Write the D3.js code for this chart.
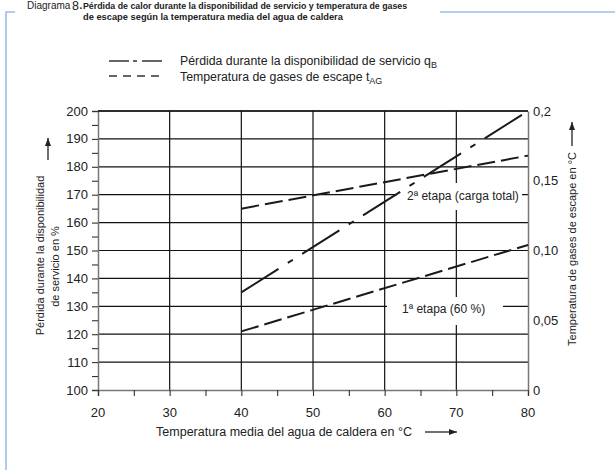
<!DOCTYPE html>
<html><head><meta charset="utf-8">
<script src="https://cdn.jsdelivr.net/npm/d3@7"></script>
<style>
html,body{margin:0;padding:0;background:#fff;}
svg{display:block;font-family:"Liberation Sans",Arial,Helvetica,sans-serif;}
</style></head>
<body>
<svg id="c" width="615" height="470"></svg>
<script>
// ---- data ----
const xTicks = [20, 25, 30, 35, 40, 45, 50, 55, 60, 65, 70, 75, 80];
const xLabels = [20, 30, 40, 50, 60, 70, 80];
const xGrid = [30, 40, 50, 60, 70];
const leftTicks = [100, 105, 110, 115, 120, 125, 130, 135, 140, 145, 150, 155, 160, 165, 170, 175, 180, 185, 190, 195, 200];
const leftLabels = [100, 110, 120, 130, 140, 150, 160, 170, 180, 190, 200];
const rightTicks = [0, 0.05, 0.10, 0.15, 0.2];
const rightLabels = ["0", "0,05", "0,10", "0,15", "0,2"];
const waterTemp = [40, 80];                 // °C
const lossQB = [135, 200];                  // % (left axis)
const gasStage2 = [0.130, 0.168];           // right axis
const gasStage1 = [0.042, 0.104];           // right axis

const svg = d3.select("#c");
const W = 615, H = 470;
const m = {l: 98, r: 528, t: 111, b: 390};
const x = d3.scaleLinear().domain([20, 80]).range([m.l, m.r]);
const yL = d3.scaleLinear().domain([100, 200]).range([m.b, m.t]);
const yR = d3.scaleLinear().domain([0, 0.2]).range([m.b, m.t]);
const txt = "#222";

// blue frame
svg.append("path").attr("d", `M15,12 H6 V${H}`).attr("fill", "none").attr("stroke", "#9dbde8").attr("stroke-width", 1.6);
svg.append("line").attr("x1", 440).attr("x2", W).attr("y1", 12).attr("y2", 12).attr("stroke", "#9dbde8").attr("stroke-width", 1.6);

// title
svg.append("text").attr("x", 27).attr("y", 9).attr("fill", txt).attr("font-size", 10).text("Diagrama");
svg.append("text").attr("x", 72).attr("y", 9.5).attr("fill", txt).attr("font-size", 12.5).text("8");
svg.append("text").attr("x", 79.5).attr("y", 9).attr("fill", txt).attr("font-size", 10).attr("font-weight", "bold").text(".");
svg.append("text").attr("x", 83).attr("y", 9).attr("fill", txt).attr("font-size", 8.8).attr("font-weight", "bold")
  .text("Pérdida de calor durante la disponibilidad de servicio y temperatura de gases");
svg.append("text").attr("x", 83).attr("y", 20).attr("fill", txt).attr("font-size", 9.3).attr("font-weight", "bold")
  .text("de escape según la temperatura media del agua de caldera");

// legend
const leg = svg.append("g");
leg.append("line").attr("x1", 109).attr("x2", 162).attr("y1", 61).attr("y2", 61)
  .attr("stroke", "#333").attr("stroke-width", 1.6).attr("stroke-dasharray", "20,4,4,5,20");
leg.append("line").attr("x1", 109).attr("x2", 160).attr("y1", 76).attr("y2", 76)
  .attr("stroke", "#333").attr("stroke-width", 1.6).attr("stroke-dasharray", "8,6");
const l1 = leg.append("text").attr("x", 180).attr("y", 65).attr("fill", txt).attr("font-size", 12.3);
l1.append("tspan").text("Pérdida durante la disponibilidad de servicio q");
l1.append("tspan").attr("font-size", 9).attr("dy", 3).text("B");
const l2 = leg.append("text").attr("x", 180).attr("y", 81).attr("fill", txt).attr("font-size", 12.3);
l2.append("tspan").text("Temperatura de gases de escape t");
l2.append("tspan").attr("font-size", 9).attr("dy", 3).text("AG");

// grid
const grid = svg.append("g").attr("stroke", "#111").attr("stroke-width", 1.2);
grid.selectAll(".h").data(leftLabels.filter(d => d > 100)).join("line")
  .attr("x1", m.l).attr("x2", m.r).attr("y1", d => yL(d)).attr("y2", d => yL(d));
grid.selectAll(".v").data(xGrid).join("line")
  .attr("x1", d => x(d)).attr("x2", d => x(d)).attr("y1", m.t).attr("y2", m.b);

// axes
const axCol = "#777";
const gL = svg.append("g").attr("transform", `translate(${m.l},0)`)
  .call(d3.axisLeft(yL).tickValues(leftTicks).tickSize(6).tickFormat(""));
gL.select(".domain").attr("stroke", axCol).attr("stroke-width", 1.5);
gL.selectAll(".tick line").attr("stroke", "#333").attr("stroke-width", 1.1);
svg.append("g").selectAll("text").data(leftLabels).join("text")
  .attr("x", 88).attr("y", d => yL(d)).attr("dy", "0.35em").attr("text-anchor", "end")
  .attr("font-size", 13).attr("fill", txt).text(d => d);

const gB = svg.append("g").attr("transform", `translate(0,${m.b})`)
  .call(d3.axisBottom(x).tickValues(xTicks).tickSize(6).tickFormat(""));
gB.select(".domain").attr("stroke", axCol).attr("stroke-width", 1.5);
gB.selectAll(".tick line").attr("stroke", "#333").attr("stroke-width", 1.1);
svg.append("g").selectAll("text").data(xLabels).join("text")
  .attr("x", d => x(d)).attr("y", 412).attr("dy", "0.35em").attr("text-anchor", "middle")
  .attr("font-size", 13).attr("fill", txt).text(d => d);

const gR = svg.append("g").attr("transform", `translate(${m.r},0)`)
  .call(d3.axisRight(yR).tickValues(rightTicks).tickSize(0).tickFormat(""));
gR.select(".domain").attr("stroke", axCol).attr("stroke-width", 1.5);
svg.append("g").selectAll("text").data(rightTicks).join("text")
  .attr("x", 533).attr("y", d => yR(d)).attr("dy", "0.35em").attr("text-anchor", "start")
  .attr("font-size", 13).attr("fill", txt).text((d, i) => rightLabels[i]);

// top border
svg.append("line").attr("x1", m.l).attr("x2", m.r).attr("y1", m.t).attr("y2", m.t).attr("stroke", "#111").attr("stroke-width", 1.3);

// annotation boxes
const ann = [
  {text: "2ª etapa (carga total)", bx: 397, bw: 125, by: 183, bh: 27, tx: 407, ty: 196},
  {text: "1ª etapa (60 %)", bx: 387, bw: 116, by: 297, bh: 28, tx: 402, ty: 309}
];
ann.forEach(a => {
  svg.append("rect").attr("x", a.bx).attr("y", a.by).attr("width", a.bw).attr("height", a.bh).attr("fill", "#fff");
  svg.append("text").attr("x", a.tx).attr("y", a.ty).attr("dy", "0.35em").attr("font-size", 12)
    .attr("fill", txt).text(a.text);
});

// data lines
const pts = (ys, yScale) => waterTemp.map((t, i) => [x(t), yScale(ys[i])]);
const lg = d3.line();
svg.append("path").attr("d", lg(pts(lossQB, yL))).attr("fill", "none").attr("stroke", "#1a1a1a")
  .attr("stroke-width", 2).attr("stroke-dasharray", "44,11,6,11");
svg.append("path").attr("d", lg(pts(gasStage2, yR))).attr("fill", "none").attr("stroke", "#1a1a1a")
  .attr("stroke-width", 2).attr("stroke-dasharray", "18,6");
svg.append("path").attr("d", lg(pts(gasStage1, yR))).attr("fill", "none").attr("stroke", "#1a1a1a")
  .attr("stroke-width", 2).attr("stroke-dasharray", "18,6");

// axis titles
svg.append("text").attr("transform", "translate(44,255.5) rotate(-90)").attr("text-anchor", "middle")
  .attr("font-size", 11).attr("fill", txt).text("Pérdida durante la disponibilidad");
svg.append("text").attr("transform", "translate(59,266.5) rotate(-90)").attr("text-anchor", "middle")
  .attr("font-size", 11).attr("fill", txt).text("de servicio en %");
svg.append("text").attr("transform", "translate(576,249) rotate(-90)").attr("text-anchor", "middle")
  .attr("font-size", 11).attr("fill", txt).text("Temperatura de gases de escape en °C");
svg.append("text").attr("x", 284).attr("y", 436).attr("text-anchor", "middle")
  .attr("font-size", 12.5).attr("fill", txt).text("Temperatura media del agua de caldera en °C");

// arrows
function arrow(x1, y1, x2, y2) {
  svg.append("line").attr("x1", x1).attr("y1", y1).attr("x2", x2).attr("y2", y2).attr("stroke", "#222").attr("stroke-width", 1.3);
  const ang = Math.atan2(y2 - y1, x2 - x1), L = 8, w = 3;
  const bx = x2 - L * Math.cos(ang), by = y2 - L * Math.sin(ang);
  const px = -Math.sin(ang) * w, py = Math.cos(ang) * w;
  svg.append("path").attr("d", `M${x2},${y2} L${bx + px},${by + py} L${bx - px},${by - py} Z`).attr("fill", "#222");
}
arrow(48, 160, 48, 138);
arrow(572, 146, 572, 122);
arrow(425, 432, 457, 432);
</script>
</body></html>
